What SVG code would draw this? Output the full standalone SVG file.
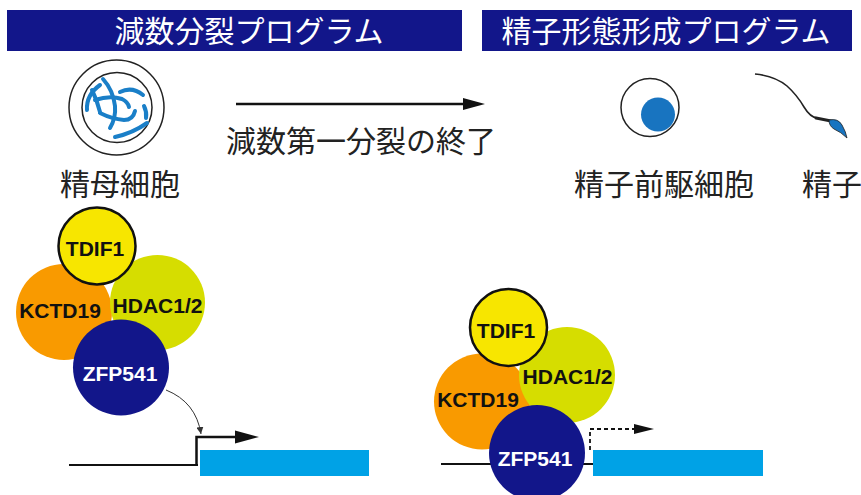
<svg xmlns="http://www.w3.org/2000/svg" width="861" height="495" viewBox="0 0 861 495">
  <style>
    .jp { font-family: "Noto Sans CJK JP", "Noto Sans", sans-serif; font-size: 30px; fill: #222; }
    .hdr { fill: #12168a; }
    .hdr-t { font-family: "Noto Sans CJK JP", "Noto Sans", sans-serif; font-size: 30px; fill: #fff; text-anchor: middle; }
    .lbl { font-family: "Liberation Sans", Arial, sans-serif; font-weight: bold; font-size: 21px; text-anchor: middle; fill: #111; }
    .lbl-w { fill: #fff; }
    .line { stroke: #111; fill: none; }
    .chrom { stroke: #1a7fc8; stroke-width: 4; fill: none; stroke-linecap: round; }
    .tdif { fill: #f7e600; stroke: #111; stroke-width: 2.5; }
    .kctd { fill: #f99a00; }
    .hdac { fill: #d6dd00; }
    .zfp { fill: #12168a; }
    .gene { fill: #00a2e6; }
  </style>
  <defs>
    <marker id="bigHead" viewBox="0 0 22 12" refX="0" refY="6" markerWidth="22" markerHeight="12" markerUnits="userSpaceOnUse" orient="auto" overflow="visible">
      <path d="M0,0 L22,6 L0,12 Z" fill="#111"/>
    </marker>
    <marker id="promHead" viewBox="0 0 24 13" refX="0" refY="6.5" markerWidth="24" markerHeight="13" markerUnits="userSpaceOnUse" orient="auto" overflow="visible">
      <path d="M0,0 L24,6.5 L0,13 Z" fill="#111"/>
    </marker>
    <marker id="midHead" viewBox="0 0 20 10" refX="0" refY="5" markerWidth="20" markerHeight="10" markerUnits="userSpaceOnUse" orient="auto" overflow="visible">
      <path d="M0,0 L20,5 L0,10 Z" fill="#111"/>
    </marker>
    <marker id="smallHead" viewBox="0 0 10 10" refX="10" refY="5" markerWidth="7" markerHeight="7" markerUnits="userSpaceOnUse" orient="auto">
      <path d="M0,0 L10,5 L0,10 Z" fill="#333"/>
    </marker>
  </defs>

  <!-- program headers -->
  <g id="header-meiosis">
    <rect class="hdr" x="7" y="10" width="455" height="41"/>
    <text class="hdr-t" x="249" y="42">減数分裂プログラム</text>
  </g>
  <g id="header-spermiogenesis">
    <rect class="hdr" x="482" y="10" width="370" height="41"/>
    <text class="hdr-t" x="666" y="42">精子形態形成プログラム</text>
  </g>

  <!-- spermatocyte -->
  <g id="spermatocyte">
    <circle cx="116.5" cy="107.5" r="47.5" fill="#fff" stroke="#222" stroke-width="1.5"/>
    <circle cx="117" cy="107.5" r="35" fill="#fff" stroke="#222" stroke-width="1.5"/>
    <path class="chrom" d="M103,79 Q113,90 115,106 Q116,118 110,128"/>
    <path class="chrom" d="M87,110 Q86,95 100,85"/>
    <path class="chrom" d="M95,100 Q110,95 122,99 Q128,102 129,107"/>
    <path class="chrom" d="M100,113 Q112,119 124,120 Q133,120 135,111"/>
    <path class="chrom" d="M115,137 Q133,133 147,123"/>
    <path class="chrom" d="M120,92 Q132,86 143,95"/>
    <path class="chrom" d="M144,106 Q147,112 146,118"/>
    <path class="chrom" d="M92,90 Q97,100 100,112"/>
    <text class="jp" x="120" y="195" text-anchor="middle">精母細胞</text>
  </g>

  <!-- spermatid -->
  <g id="spermatid">
    <circle cx="650" cy="107.5" r="29" fill="#fff" stroke="#222" stroke-width="1.5"/>
    <circle cx="658" cy="114.5" r="17" fill="#1874c0"/>
    <text class="jp" x="664" y="195" text-anchor="middle">精子前駆細胞</text>
  </g>

  <!-- sperm -->
  <g id="sperm">
    <path d="M755,74 Q775,76 787,86 Q797,95 804,107 Q810,117 817,118" fill="none" stroke="#222" stroke-width="1.6"/>
    <path d="M816,118 L831,121" fill="none" stroke="#222" stroke-width="3" stroke-linecap="round"/>
    <path d="M829,120 Q838,118 842,125 Q846,132 847,138 Q841,132 834,129 Q829,126 829,120 Z" fill="#1874c0" stroke="#222" stroke-width="0.8"/>
    <text class="jp" x="802" y="195">精子</text>
  </g>

  <!-- transition -->
  <g id="transition">
    <line class="line" x1="236" y1="104" x2="463" y2="104" stroke-width="2.5" marker-end="url(#bigHead)"/>
    <text class="jp" x="361" y="152" text-anchor="middle">減数第一分裂の終了</text>
  </g>

  <!-- meiotic complex (active) -->
  <g id="complex-meiosis">
    <circle class="kctd" cx="64" cy="312" r="48"/>
    <circle class="hdac" cx="157.5" cy="302.5" r="47.5"/>
    <circle class="tdif" cx="97" cy="246" r="38.5"/>
    <circle class="zfp" cx="121" cy="367.5" r="48"/>
    <text class="lbl" x="95" y="256">TDIF1</text>
    <text class="lbl" x="60" y="318">KCTD19</text>
    <text class="lbl" x="157.5" y="313">HDAC1/2</text>
    <text class="lbl lbl-w" x="120" y="381">ZFP541</text>
  </g>

  <!-- meiotic gene -->
  <g id="gene-meiosis">
    <line class="line" x1="69" y1="465" x2="198" y2="465" stroke-width="2"/>
    <rect class="gene" x="200" y="450" width="169" height="26"/>
  </g>

  <!-- spermiogenic complex -->
  <g id="complex-spermiogenesis">
    <line class="line" x1="441" y1="464" x2="594" y2="464" stroke-width="2"/>
    <rect class="gene" x="593" y="450" width="170" height="26"/>
    <circle class="kctd" cx="482" cy="401.5" r="48"/>
    <circle class="hdac" cx="567" cy="375" r="48"/>
    <circle class="tdif" cx="508.5" cy="327.5" r="38.5"/>
    <circle class="zfp" cx="537" cy="453" r="48"/>
    <text class="lbl" x="506" y="338">TDIF1</text>
    <text class="lbl" x="567.5" y="384">HDAC1/2</text>
    <text class="lbl" x="478" y="407">KCTD19</text>
    <text class="lbl lbl-w" x="535" y="466">ZFP541</text>
  </g>

  <!-- connectors -->
  <g id="connectors">
    <path d="M166,390 Q196,402 201,434" fill="none" stroke="#333" stroke-width="1" marker-end="url(#smallHead)"/>
    <path d="M196.5,465 L196.5,437 L235,437" class="line" stroke-width="2.5" marker-end="url(#promHead)"/>
    <path d="M590,450 L590,429 L634,429" class="line" stroke-width="1.8" stroke-dasharray="4 3" marker-end="url(#midHead)"/>
  </g>
</svg>
